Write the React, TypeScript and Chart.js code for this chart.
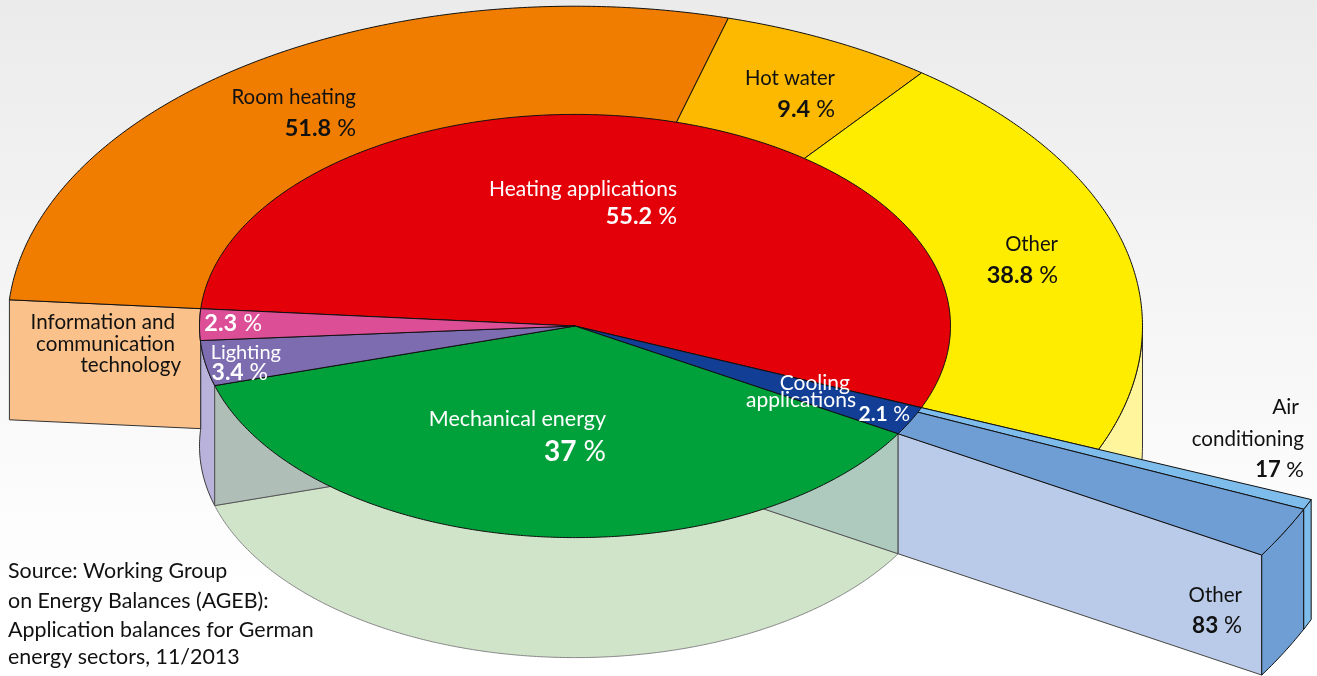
import React, { useEffect, useRef } from "react";
import { Chart, registerables } from "chart.js";

Chart.register(...registerables);

// Shares of final energy (inner pie) as drawn in the picture, clockwise from the heating slice.
// The printed percentages are in the labels list further down.
const pieNames = ["Heating applications", "Cooling applications", "Mechanical energy", "Lighting", "Information and communication technology"];
const pieValues = [55, 2.2, 36.95, 3.45, 2.4];
const pieColors = ["#E30009", "#123E96", "#00A13A", "#7D6CB0", "#DC4E96"];

// Heating breakdown, sizes as drawn in the picture.
const heatingNames = ["Room heating", "Hot water", "Other"];
const heatingValues = [51, 11.1, 37.9];
const heatingColors = ["#F17D00", "#FCB900", "#FFED00"];

// Cooling breakdown.
const coolingNames = ["Air conditioning", "Other"];
const coolingValues = [17, 83];
const coolingColors = ["#7DBCEB", "#6F9ED5"];

const W = 1317, H = 676;
const CX = 575, CY = 326, K = 0.5635, DEPTH = 120;
const R_PIE = 375.5, R_RING = 567.5, R_WEDGE = 798;
const START = 274.7;

type P = { x: number; y: number };
const pt = (deg: number, r: number, dy = 0): P => {
  const a = (deg * Math.PI) / 180;
  return { x: CX + r * Math.sin(a), y: CY - r * K * Math.cos(a) + dy };
};
const arc = (a: number, b: number, r: number, dy = 0): P[] => {
  const n = Math.max(2, Math.ceil(Math.abs(b - a) * 2));
  const out: P[] = [];
  for (let i = 0; i <= n; i++) out.push(pt(a + ((b - a) * i) / n, r, dy));
  return out;
};
const sector = (a: number, b: number, r: number, dy = 0): P[] => [pt(0, 0, dy), ...arc(a, b, r, dy)];
const wall = (a: number, b: number, r: number): P[] => [...arc(a, b, r), ...arc(b, a, r, DEPTH)];
const face = (a: number, r1: number, r2: number): P[] => [pt(a, r1), pt(a, r2), pt(a, r2, DEPTH), pt(a, r1, DEPTH)];

const bounds = (start: number, span: number, vals: number[]) => {
  const total = vals.reduce((s, v) => s + v, 0);
  let cur = start;
  return vals.map((v) => {
    const a = cur;
    cur += (span * v) / total;
    return [a, cur];
  });
};

const pieB = bounds(START, 360, pieValues);
const [heatA, heatB] = pieB[0];
const [coolA, coolB] = pieB[1];
const [mechA, mechB] = pieB[2];
const ringB = bounds(heatA, heatB - heatA, heatingValues);
const wedgeB = bounds(coolA, coolB - coolA, coolingValues);

type Shape = { label: string; data: P[]; fill: string; stroke: string; lw: number };
const shape = (label: string, data: P[], fill: string, stroke = "#111", lw = 1): Shape => ({ label, data, fill, stroke, lw });

const shapes: Shape[] = [
  // extruded side walls, back to front
  shape("Other wall", wall(450, ringB[2][1], R_RING), "#FFF59D", "#333"),
  shape("Room heating wall", face(START, R_PIE, R_RING), "#FBC18A", "#333"),
  shape("Lighting wall", wall(mechB, START + 360, R_PIE), "#B9B2DB", "#333"),
  shape("Mechanical floor", sector(mechA, mechB, R_PIE, DEPTH), "#D0E4CA", "#888"),
  shape("Mechanical left face", face(mechB, 0, R_PIE), "#AFBFB7", "#555"),
  shape("Mechanical right face", face(mechA, 0, R_PIE), "#AECABE", "#555"),
  shape("Cooling wall", face(coolB, R_PIE, R_WEDGE), "#B9CBE9", "#444"),
  shape("Wedge end other", wall(wedgeB[1][0], wedgeB[1][1], R_WEDGE), coolingColors[1]),
  shape("Wedge end air", wall(wedgeB[0][0], wedgeB[0][1], R_WEDGE), coolingColors[0]),
  // top faces
  ...heatingNames.map((n, i) => shape(n, sector(ringB[i][0], ringB[i][1], R_RING), heatingColors[i])),
  ...coolingNames.map((n, i) => shape(n, sector(wedgeB[i][0], wedgeB[i][1], R_WEDGE), coolingColors[i])),
  ...pieNames.map((n, i) => shape(n, sector(pieB[i][0], pieB[i][1], R_PIE), pieColors[i])),
];

// Text: regular part, bold part, anchor x, baseline y, colour, size, alignment
type L = { t: string; b?: string; x: number; y: number; c?: string; s?: number; left?: boolean };
const labels: L[] = [
  { t: "Room heating", x: 356, y: 104, s: 20.5 },
  { t: " %", b: "51.8", x: 356, y: 136, s: 23.5 },
  { t: "Hot water", x: 835, y: 85, s: 20.3 },
  { t: " %", b: "9.4", x: 835, y: 117, s: 23.5 },
  { t: "Heating applications", x: 677, y: 196, c: "#fff" },
  { t: " %", b: "55.2", x: 677, y: 224, c: "#fff", s: 23.5 },
  { t: "Other", x: 1058, y: 251, s: 20.3 },
  { t: " %", b: "38.8", x: 1058, y: 283, s: 23.5 },
  { t: "Information and", x: 175, y: 329, s: 20.6 },
  { t: "communication", x: 175, y: 351, s: 20.6 },
  { t: "technology", x: 181, y: 372, s: 20.6 },
  { t: " %", b: "2.3", x: 262, y: 331, c: "#fff", s: 23.5 },
  { t: "Lighting", x: 281, y: 359, c: "#fff", s: 20 },
  { t: " %", b: "3.4", x: 268, y: 380, c: "#fff", s: 23 },
  { t: "Mechanical energy", x: 606, y: 426, c: "#fff", s: 21.5 },
  { t: " %", b: "37", x: 606, y: 461, c: "#fff", s: 28 },
  { t: "Cooling", x: 850, y: 390, c: "#fff" },
  { t: "applications", x: 856, y: 407, c: "#fff" },
  { t: " %", b: "2.1", x: 910, y: 421, c: "#fff" },
  { t: "Air", x: 1299, y: 414 },
  { t: "conditioning", x: 1304, y: 446, s: 20.6 },
  { t: " %", b: "17", x: 1304, y: 477, s: 22 },
  { t: "Other", x: 1242, y: 602, s: 20.5 },
  { t: " %", b: "83", x: 1242, y: 633, s: 22.5 },
  { t: "Source: Working Group", x: 8, y: 578, left: true, s: 21.4 },
  { t: "on Energy Balances (AGEB):", x: 8, y: 608, left: true, s: 21.4 },
  { t: "Application balances for German", x: 8, y: 637, left: true, s: 21.4 },
  { t: "energy sectors, 11/2013", x: 8, y: 664, left: true, s: 21.4 },
];

const FONT = "Lato, sans-serif";

const polygons = {
  id: "polygons",
  beforeDraw(chart: any) {
    const { ctx } = chart;
    const g = ctx.createLinearGradient(0, 0, 0, 600);
    g.addColorStop(0, "#EBEBEB");
    g.addColorStop(1, "#FFFFFF");
    ctx.save();
    ctx.fillStyle = g;
    ctx.fillRect(0, 0, W, H);
    ctx.restore();
  },
  beforeDatasetDraw(chart: any, args: any) {
    const { ctx } = chart;
    const ds = chart.data.datasets[args.index];
    const pts = args.meta.data;
    ctx.save();
    ctx.beginPath();
    pts.forEach((p: any, i: number) => (i ? ctx.lineTo(p.x, p.y) : ctx.moveTo(p.x, p.y)));
    ctx.closePath();
    ctx.fillStyle = ds.polyFill;
    ctx.strokeStyle = ds.polyStroke;
    ctx.lineWidth = ds.polyWidth;
    ctx.lineJoin = "round";
    ctx.fill();
    ctx.stroke();
    ctx.restore();
    return false;
  },
  afterDraw(chart: any) {
    const { ctx } = chart;
    ctx.save();
    ctx.textBaseline = "alphabetic";
    ctx.textAlign = "left";
    for (const l of labels) {
      const size = l.s ?? 21;
      const reg = `400 ${size}px ${FONT}`;
      const bold = `700 ${size}px ${FONT}`;
      ctx.fillStyle = l.c ?? "#111";
      ctx.font = reg;
      const w2 = ctx.measureText(l.t).width;
      let w1 = 0;
      if (l.b) {
        ctx.font = bold;
        w1 = ctx.measureText(l.b).width;
      }
      const x0 = l.left ? l.x : l.x - w1 - w2;
      if (l.b) {
        ctx.font = bold;
        ctx.fillText(l.b, x0, l.y);
      }
      ctx.font = reg;
      ctx.fillText(l.t, x0 + w1, l.y);
    }
    ctx.restore();
  },
};

export default function App() {
  const ref = useRef<HTMLCanvasElement>(null);
  useEffect(() => {
    document.body.style.margin = "0";
    const n = shapes.length;
    const chart = new Chart(ref.current!, {
      type: "scatter",
      data: {
        datasets: shapes.map((s, i) => ({
          label: s.label,
          data: s.data,
          order: n - i,
          pointRadius: 0,
          showLine: false,
          polyFill: s.fill,
          polyStroke: s.stroke,
          polyWidth: s.lw,
        })) as any,
      },
      options: {
        animation: false,
        responsive: false,
        layout: { padding: 0 },
        plugins: { legend: { display: false }, tooltip: { enabled: false } },
        scales: {
          x: { type: "linear", min: 0, max: W, display: false },
          y: { type: "linear", min: 0, max: H, reverse: true, display: false },
        },
      },
      plugins: [polygons],
    });
    return () => chart.destroy();
  }, []);
  return <canvas ref={ref} width={W} height={H} style={{ display: "block" }} />;
}
